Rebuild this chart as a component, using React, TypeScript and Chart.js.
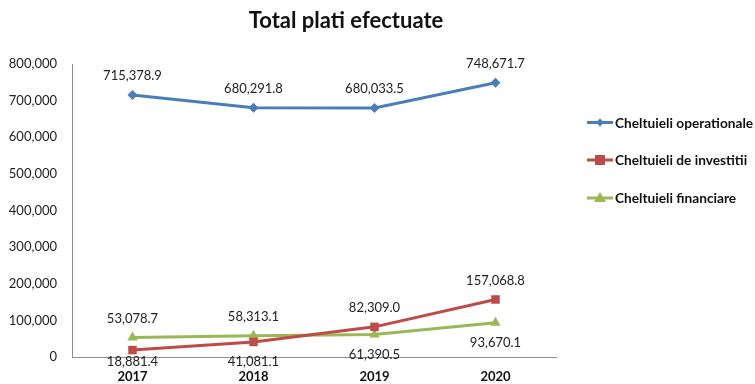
import React, { useEffect, useRef } from "react";
import { Chart, registerables } from "chart.js";

Chart.register(...registerables);

const categories = ["2017", "2018", "2019", "2020"];
const operationale = [715378.9, 680291.8, 680033.5, 748671.7];
const investitii = [18881.4, 41081.1, 82309.0, 157068.8];
const financiare = [53078.7, 58313.1, 61390.5, 93670.1];
const seriesNames = ["Cheltuieli operationale", "Cheltuieli de investitii", "Cheltuieli financiare"];
const yMax = 800000;
const yStep = 100000;
const titleText = "Total plati efectuate";

// label placement (style)
const labelPos: string[][] = [
  ["above", "above", "above", "above"],
  ["below", "below", "above", "above"],
  ["above", "above", "below", "below"],
];

const colors = ["#4a7ebb", "#be4b48", "#98b954"];
const markers = ["rectRot", "rect", "triangle"];
const FONT = "Lato, 'Open Sans', sans-serif";

const fmt = (v: number) =>
  v.toLocaleString("en-US", { minimumFractionDigits: 1, maximumFractionDigits: 1 });

function drawMarker(ctx: CanvasRenderingContext2D, style: string, x: number, y: number, r: number, color: string) {
  ctx.save();
  ctx.fillStyle = color;
  ctx.beginPath();
  if (style === "rectRot") {
    ctx.moveTo(x, y - r);
    ctx.lineTo(x + r, y);
    ctx.lineTo(x, y + r);
    ctx.lineTo(x - r, y);
  } else if (style === "rect") {
    ctx.rect(x - r, y - r, 2 * r, 2 * r);
  } else {
    ctx.moveTo(x, y - r - 1);
    ctx.lineTo(x + r + 1, y + r - 1);
    ctx.lineTo(x - r - 1, y + r - 1);
  }
  ctx.closePath();
  ctx.fill();
  ctx.restore();
}

const overlayPlugin = {
  id: "overlay",
  afterDatasetsDraw(chart: any) {
    const ctx = chart.ctx;
    ctx.save();
    ctx.font = `13px ${FONT}`;
    ctx.fillStyle = "#222";
    ctx.textAlign = "center";
    ctx.textBaseline = "middle";
    chart.data.datasets.forEach((ds: any, di: number) => {
      const meta = chart.getDatasetMeta(di);
      meta.data.forEach((pt: any, i: number) => {
        const pos = labelPos[di][i];
        let y = pos === "above" ? pt.y - 19 : pt.y + 20;
        if (y > 362) y = 362;
        ctx.fillText(fmt(ds.data[i]), pt.x, y);
      });
    });
    ctx.restore();
  },
  afterDraw(chart: any) {
    const ctx = chart.ctx;
    ctx.save();
    // title
    ctx.font = `bold 22px ${FONT}`;
    ctx.fillStyle = "#111";
    ctx.textAlign = "center";
    ctx.textBaseline = "alphabetic";
    ctx.fillText(titleText, 346, 28);
    // legend
    const ys = [122.5, 160, 198];
    seriesNames.forEach((name, i) => {
      const y = ys[i];
      ctx.strokeStyle = colors[i];
      ctx.lineWidth = 3;
      ctx.beginPath();
      ctx.moveTo(587, y);
      ctx.lineTo(613, y);
      ctx.stroke();
      drawMarker(ctx, markers[i], 600, y, i === 0 ? 4 : 5, colors[i]);
      ctx.font = `bold 13.7px ${FONT}`;
      ctx.fillStyle = "#111";
      ctx.textAlign = "left";
      ctx.textBaseline = "alphabetic";
      ctx.fillText(name, 615, y + 5);
    });
    ctx.restore();
  },
};

export default function App() {
  const ref = useRef<HTMLCanvasElement>(null);
  useEffect(() => {
    if (!ref.current) return;
    const dataArrays = [operationale, investitii, financiare];
    const chart = new Chart(ref.current, {
      type: "line",
      data: {
        labels: categories,
        datasets: dataArrays.map((d, i) => ({
          label: seriesNames[i],
          data: d,
          borderColor: colors[i],
          backgroundColor: colors[i],
          borderWidth: 3,
          pointStyle: markers[i] as any,
          pointRadius: i === 0 ? 5 : 6,
          pointBorderWidth: 0,
          tension: 0,
        })),
      },
      options: {
        responsive: false,
        animation: false,
        layout: { padding: { top: 64, right: 199, left: 0, bottom: 0 } },
        plugins: { legend: { display: false }, title: { display: false }, tooltip: { enabled: false } },
        scales: {
          x: {
            offset: true,
            grid: { display: false, drawTicks: false },
            border: { display: true, color: "#8c8c8c", width: 1 },
            ticks: { color: "#111", font: { family: FONT, size: 13, weight: "bold" }, padding: 12 },
            afterFit: (s: any) => { s.height = 27; },
          },
          y: {
            min: 0,
            max: yMax,
            grid: { display: false, drawTicks: false },
            border: { display: true, color: "#8c8c8c", width: 1 },
            ticks: {
              stepSize: yStep,
              color: "#222",
              font: { family: FONT, size: 13 },
              padding: 15,
              callback: (v: any) => (v === 0 ? "0" : Number(v).toLocaleString("en-US")),
            },
            afterFit: (s: any) => { s.width = 72; },
          },
        },
      },
      plugins: [overlayPlugin],
    });
    return () => chart.destroy();
  }, []);
  return (
    <div style={{ position: "fixed", left: 0, top: 0, width: 755, height: 384, background: "#fff" }}>
      <canvas ref={ref} width={755} height={384} />
    </div>
  );
}
